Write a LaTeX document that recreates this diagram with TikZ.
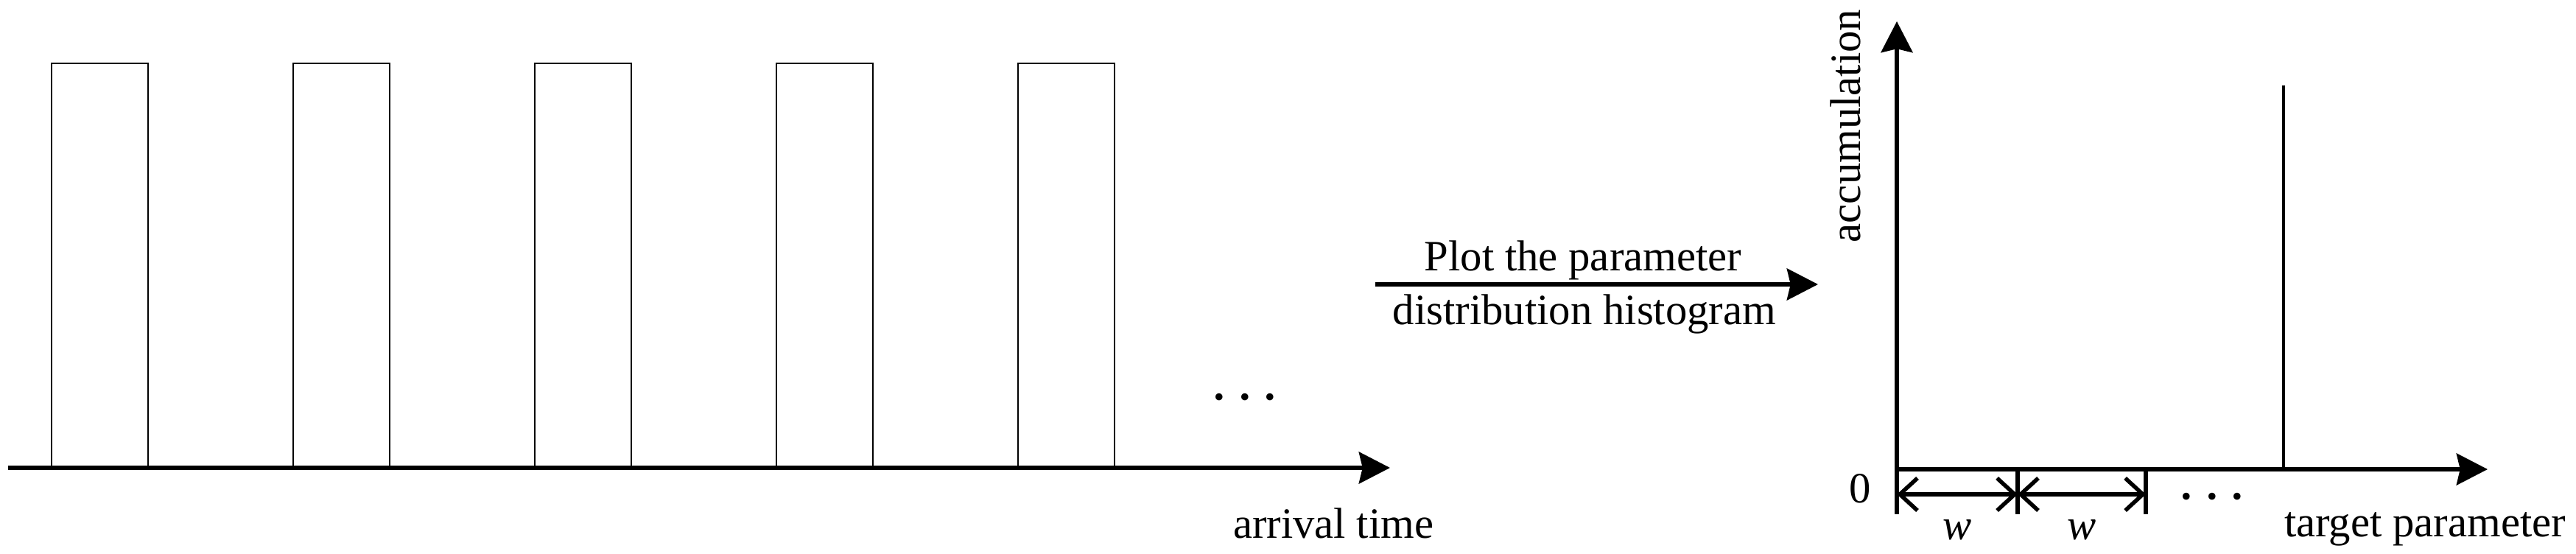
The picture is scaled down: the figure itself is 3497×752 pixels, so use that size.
\documentclass[tikz,border=0pt]{standalone}
\usepackage{fontspec}
\setmainfont{Liberation Serif}
\usetikzlibrary{arrows.meta}
\begin{document}
\begin{tikzpicture}[x=0.01cm,y=-0.01cm,
  every node/.style={inner sep=0pt,outer sep=0pt,font=\fontsize{16.7pt}{20pt}\selectfont},
  axisline/.style={line width=1.55pt,-{Stealth[length=12pt,width=12.2pt,inset=1.4pt]}},
  pulse/.style={draw,line width=0.6pt},
  tickline/.style={line width=1.55pt},
  dimline/.style={line width=1.55pt,{Straight Barb[length=6.8pt,width=12.5pt]}-{Straight Barb[length=6.8pt,width=12.5pt]}},
  spikeline/.style={line width=1.35pt}]
\useasboundingbox (0,0) rectangle (3497,752);
% left: pulse train
\foreach \i in {0,...,4}{
  \draw[pulse] ({70+328*\i},635) rectangle ({201+328*\i},86);
}
\coordinate (la0) at (11,635);
\coordinate (la1) at (1887,635);
\draw[axisline] (la0) -- (la1);
\node[anchor=base] (ldots) at (1690,558) {\textbf{· · ·}};
\node[anchor=base west] (arr) at (1674,730) {arrival time};
% middle arrow
\coordinate (m0) at (1867,386);
\coordinate (m1) at (2468,386);
\draw[axisline] (m0) -- (m1);
\node[anchor=base] (plot1) at (2149,368) {Plot the parameter};
\node[anchor=base] (plot2) at (2151,440) {distribution histogram};
% right: histogram
\coordinate (o) at (2575,637);
\coordinate (ytip) at (2575,29);
\coordinate (xtip) at (3377,637);
\draw[axisline] (o) -- (ytip);
\draw[axisline] (o) -- (xtip);
\node[anchor=base,rotate=90] (acc) at (2525,171) {accumulation};
\coordinate (sb) at (3100,637);
\coordinate (st) at (3100,116);
\draw[spikeline] (sb) -- (st);
\coordinate (t0) at (2575,698);
\coordinate (t1a) at (2739,637);
\coordinate (t1b) at (2739,698);
\coordinate (t2a) at (2913,637);
\coordinate (t2b) at (2913,698);
\draw[tickline] (o) -- (t0);
\draw[tickline] (t1a) -- (t1b);
\draw[tickline] (t2a) -- (t2b);
\coordinate (d0) at (2575,671);
\coordinate (d1) at (2739,671);
\coordinate (d2) at (2913,671);
\draw[dimline] (d0) -- (d1);
\draw[dimline] (d1) -- (d2);
\node[anchor=base] (zero) at (2525,682) {0};
\node[anchor=base] (w1) at (2657,732) {\textit{w}};
\node[anchor=base] (w2) at (2826,732) {\textit{w}};
\node[anchor=base] (rdots) at (3003,693) {\textbf{· · ·}};
\node[anchor=base west] (tp) at (3101,728) {target parameter};
\end{tikzpicture}
\end{document}
